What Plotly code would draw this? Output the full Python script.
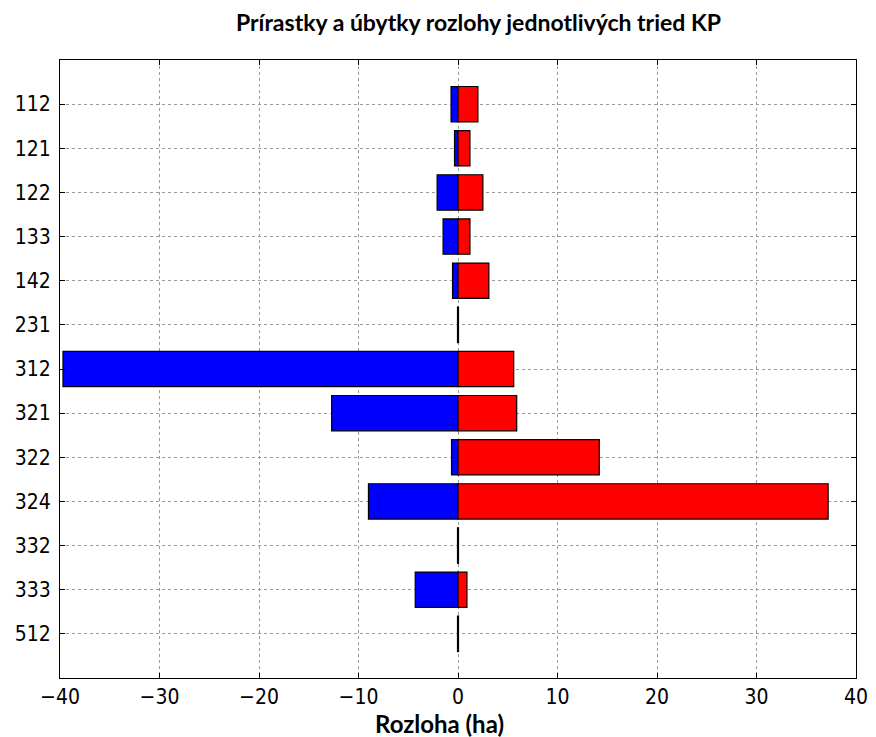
import plotly.graph_objects as go

categories = ["112", "121", "122", "133", "142", "231", "312", "321", "322", "324", "332", "333", "512"]
ubytky = [-0.7, -0.35, -2.1, -1.5, -0.55, -0.05, -39.7, -12.7, -0.65, -9.0, -0.05, -4.3, -0.05]
prirastky = [2.0, 1.2, 2.5, 1.2, 3.1, 0.05, 5.6, 5.9, 14.2, 37.2, 0.05, 0.9, 0.05]
x_ticks = [-40, -30, -20, -10, 0, 10, 20, 30, 40]
x_tick_labels = ["\u221240", "\u221230", "\u221220", "\u221210", "0", "10", "20", "30", "40"]

fig = go.Figure()
fig.add_trace(go.Bar(y=categories, x=ubytky, orientation="h", width=0.8,
                     marker=dict(color="#0000ff", line=dict(color="black", width=1.2)),
                     name="Úbytky"))
fig.add_trace(go.Bar(y=categories, x=prirastky, orientation="h", width=0.8,
                     marker=dict(color="#ff0000", line=dict(color="black", width=1.2)),
                     name="Prírastky"))

fig.update_layout(
    width=868, height=729,
    barmode="overlay",
    showlegend=False,
    plot_bgcolor="white", paper_bgcolor="white",
    margin=dict(l=52, r=20, t=52, b=59),
    title=dict(text="<b>Prírastky a úbytky rozlohy jednotlivých tried KP</b>",
               x=0.542, xanchor="center", y=0.979, yanchor="middle",
               font=dict(family="Lato", size=23, color="black")),
    font=dict(family="DejaVu Sans Condensed, DejaVu Sans", size=21, color="black"),
)
fig.add_annotation(text="<b>Rozloha (ha)</b>", xref="paper", yref="paper",
                   x=0.477, y=-0.073, xanchor="center", yanchor="middle", showarrow=False,
                   font=dict(family="Lato", size=24, color="black"))
fig.update_xaxes(range=[-40, 40], tickvals=x_ticks, ticktext=x_tick_labels, automargin=False,
                 showgrid=True, gridcolor="#9a9a9a", griddash="dot", gridwidth=1,
                 zeroline=False, showline=True, linecolor="black", linewidth=1.2, mirror="ticks",
                 ticks="inside", ticklen=5, tickcolor="black", ticklabelstandoff=0)
fig.update_yaxes(categoryorder="array", categoryarray=categories, automargin=False,
                 showgrid=True, gridcolor="#9a9a9a", griddash="dot", gridwidth=1,
                 zeroline=False, showline=True, linecolor="black", linewidth=1.2, mirror="ticks",
                 ticks="inside", ticklen=5, tickcolor="black", ticklabelstandoff=4,
                 autorange=False, range=[13.0, -1.0])
fig.write_html("out.html")
